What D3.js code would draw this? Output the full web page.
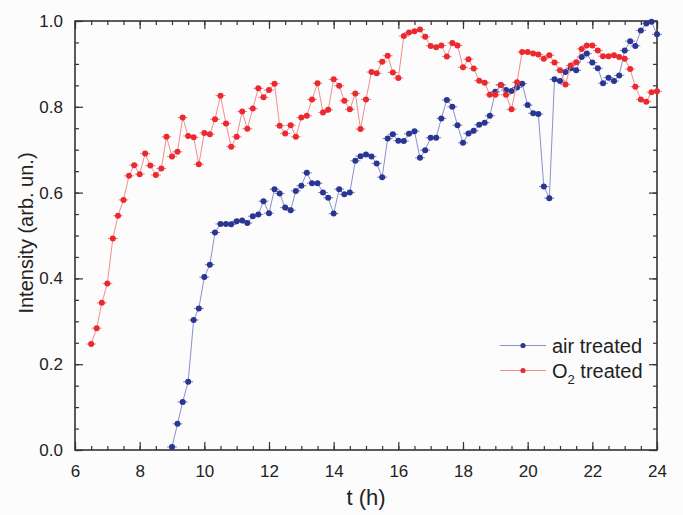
<!DOCTYPE html>
<html>
<head>
<meta charset="utf-8">
<script src="https://cdn.jsdelivr.net/npm/d3@7"></script>
<style>
  body { margin: 0; background: #fcfcfc; }
  svg { display: block; font-family: "Liberation Sans", Arial, sans-serif; }
</style>
</head>
<body>
<div id="chart"></div>
<script>
// sampling times (h) and intensities
var o2Times = [6.5, 6.67, 6.83, 7.0, 7.17, 7.33, 7.5, 7.67, 7.83, 8.0, 8.17, 8.33, 8.5, 8.67, 8.83,
    9.0, 9.17, 9.33, 9.5, 9.67, 9.83, 10.0, 10.17, 10.33, 10.5, 10.67, 10.83, 11.0, 11.17, 11.33,
    11.5, 11.67, 11.83, 12.0, 12.17, 12.33, 12.5, 12.67, 12.83, 13.0, 13.17, 13.33, 13.5, 13.67,
    13.83, 14.0, 14.17, 14.33, 14.5, 14.67, 14.83, 15.0, 15.17, 15.33, 15.5, 15.67, 15.83, 16.0,
    16.17, 16.33, 16.5, 16.67, 16.83, 17.0, 17.17, 17.33, 17.5, 17.67, 17.83, 18.0, 18.17, 18.33,
    18.5, 18.67, 18.83, 19.0, 19.17, 19.33, 19.5, 19.67, 19.83, 20.0, 20.17, 20.33, 20.5, 20.67,
    20.83, 21.0, 21.17, 21.33, 21.5, 21.67, 21.83, 22.0, 22.17, 22.33, 22.5, 22.67, 22.83, 23.0,
    23.17, 23.33, 23.5, 23.67, 23.83, 24.0];
var o2Values = [0.247, 0.284, 0.343, 0.388, 0.493, 0.546, 0.583, 0.639, 0.664, 0.643, 0.691, 0.663,
    0.641, 0.656, 0.730, 0.684, 0.695, 0.775, 0.732, 0.729, 0.666, 0.739, 0.736, 0.771, 0.826,
    0.761, 0.707, 0.730, 0.789, 0.749, 0.796, 0.843, 0.822, 0.839, 0.854, 0.756, 0.738, 0.757,
    0.730, 0.775, 0.779, 0.817, 0.855, 0.787, 0.793, 0.864, 0.849, 0.814, 0.794, 0.831, 0.748,
    0.817, 0.881, 0.878, 0.905, 0.919, 0.880, 0.867, 0.965, 0.973, 0.976, 0.980, 0.963, 0.942,
    0.939, 0.943, 0.917, 0.949, 0.943, 0.892, 0.911, 0.889, 0.861, 0.856, 0.828, 0.828, 0.851,
    0.828, 0.794, 0.857, 0.928, 0.928, 0.924, 0.922, 0.912, 0.920, 0.903, 0.885, 0.852, 0.896,
    0.904, 0.935, 0.943, 0.943, 0.931, 0.918, 0.918, 0.920, 0.916, 0.912, 0.888, 0.847, 0.817,
    0.812, 0.834, 0.836];

var airTimes = [9.0, 9.17, 9.33, 9.5, 9.67, 9.83, 10.0, 10.17, 10.33, 10.5, 10.67, 10.83, 11.0,
    11.17, 11.33, 11.5, 11.67, 11.83, 12.0, 12.17, 12.33, 12.5, 12.67, 12.83, 13.0, 13.17, 13.33,
    13.5, 13.67, 13.83, 14.0, 14.17, 14.33, 14.5, 14.67, 14.83, 15.0, 15.17, 15.33, 15.5, 15.67,
    15.83, 16.0, 16.17, 16.33, 16.5, 16.67, 16.83, 17.0, 17.17, 17.33, 17.5, 17.67, 17.83, 18.0,
    18.17, 18.33, 18.5, 18.67, 18.83, 19.0, 19.17, 19.33, 19.5, 19.67, 19.83, 20.0, 20.17, 20.33,
    20.5, 20.67, 20.83, 21.0, 21.17, 21.33, 21.5, 21.67, 21.83, 22.0, 22.17, 22.33, 22.5, 22.67,
    22.83, 23.0, 23.17, 23.33, 23.5, 23.67, 23.83, 24.0];
var airValues = [0.007, 0.061, 0.112, 0.159, 0.303, 0.330, 0.403, 0.432, 0.507, 0.527, 0.527,
    0.526, 0.533, 0.535, 0.529, 0.545, 0.549, 0.580, 0.552, 0.608, 0.598, 0.565, 0.559, 0.604,
    0.616, 0.646, 0.622, 0.622, 0.600, 0.588, 0.551, 0.608, 0.596, 0.600, 0.674, 0.685, 0.689,
    0.684, 0.668, 0.636, 0.726, 0.736, 0.721, 0.720, 0.737, 0.743, 0.681, 0.699, 0.728, 0.728,
    0.773, 0.816, 0.800, 0.757, 0.716, 0.738, 0.744, 0.758, 0.763, 0.779, 0.835, 0.851, 0.839,
    0.837, 0.845, 0.854, 0.804, 0.785, 0.783, 0.614, 0.587, 0.864, 0.860, 0.881, 0.890, 0.885,
    0.916, 0.924, 0.903, 0.890, 0.855, 0.868, 0.860, 0.873, 0.931, 0.953, 0.942, 0.978, 0.994,
    0.998, 0.969];

var xTicks = [6, 8, 10, 12, 14, 16, 18, 20, 22, 24]
  , yTicks = [0.0, 0.2, 0.4, 0.6, 0.8, 1.0];

var width = 683, height = 515
  , margin = {top: 21, right: 26, bottom: 65, left: 75}
  , w = width - margin.left - margin.right
  , h = height - margin.top - margin.bottom;

var series = [
    {name: 'air', times: airTimes, values: airValues, dot: '#2b3592', line: '#8a90d2'}
  , {name: 'o2', times: o2Times, values: o2Values, dot: '#ea2a2f', line: '#f18d8d'}
];

var svg = d3.select('#chart').append('svg')
    .attr('width', width).attr('height', height);

svg.append('rect').attr('width', width).attr('height', height).attr('fill', '#fcfcfc');

var g = svg.append('g')
    .attr('transform', 'translate(' + [margin.left, margin.top] + ')');

var x = d3.scaleLinear().domain([6, 24]).range([0, w])
  , y = d3.scaleLinear().domain([0, 1]).range([h, 0]);

var axisColor = '#333';

// ticks: major + minor, all pointing inward, mirrored on top/right
function styleAxis(sel){
    sel.select('.domain').remove();
    sel.selectAll('line').attr('stroke', axisColor).attr('stroke-width', 1.2);
    sel.selectAll('text').attr('fill', '#222').style('font-size', '17px');
}

var xMinor = d3.range(6, 24.01, 0.5)
  , yMinor = d3.range(0, 1.001, 0.05);

g.append('g').attr('transform', 'translate(0,' + h + ')')
    .call(d3.axisBottom(x).tickValues(xMinor).tickSize(-4).tickFormat(''))
    .call(styleAxis);
g.append('g').attr('transform', 'translate(0,' + h + ')')
    .call(d3.axisBottom(x).tickValues(xTicks).tickSize(-8).tickPadding(15).tickFormat(d3.format('d')))
    .call(styleAxis);
g.append('g')
    .call(d3.axisTop(x).tickValues(xMinor).tickSize(-4).tickFormat(''))
    .call(styleAxis);
g.append('g')
    .call(d3.axisTop(x).tickValues(xTicks).tickSize(-8).tickFormat(''))
    .call(styleAxis);

g.append('g')
    .call(d3.axisLeft(y).tickValues(yMinor).tickSize(-4).tickFormat(''))
    .call(styleAxis);
g.append('g')
    .call(d3.axisLeft(y).tickValues(yTicks).tickSize(-8).tickPadding(12).tickFormat(d3.format('.1f')))
    .call(styleAxis);
g.append('g').attr('transform', 'translate(' + w + ',0)')
    .call(d3.axisRight(y).tickValues(yMinor).tickSize(-4).tickFormat(''))
    .call(styleAxis);
g.append('g').attr('transform', 'translate(' + w + ',0)')
    .call(d3.axisRight(y).tickValues(yTicks).tickSize(-8).tickFormat(''))
    .call(styleAxis);

g.append('rect')
    .attr('width', w).attr('height', h)
    .attr('fill', 'none').attr('stroke', axisColor).attr('stroke-width', 1.6);

// series
var line = d3.line()
    .x(function(d){ return x(d[0]); })
    .y(function(d){ return y(d[1]); });

series.forEach(function(s){
    var pts = s.times.map(function(t, i){ return [t, s.values[i]]; });

    g.append('path').datum(pts)
        .attr('d', line)
        .attr('fill', 'none')
        .attr('stroke', s.line)
        .attr('stroke-width', 1);

    var m = g.append('g').selectAll('g').data(pts).enter().append('g')
        .attr('transform', function(d){ return 'translate(' + [x(d[0]), y(d[1])] + ')'; });

    m.append('line').attr('x1', -5).attr('x2', 5)
        .attr('stroke', s.dot).attr('stroke-width', 1).attr('opacity', 0.6);
    m.append('circle').attr('r', 3).attr('fill', s.dot);
});

// legend
var legend = svg.append('g').attr('transform', 'translate(' + [500, 345.5] + ')');
series.forEach(function(s, i){
    var row = legend.append('g').attr('transform', 'translate(0,' + (i * 25) + ')');
    row.append('line').attr('x1', 0).attr('x2', 46)
        .attr('stroke', s.line).attr('stroke-width', 1);
    row.append('circle').attr('cx', 23).attr('r', 2.6).attr('fill', s.dot);
});
legend.append('text').attr('x', 52).attr('y', 7).attr('fill', '#222')
    .style('font-size', '20px').text('air treated');
var lt2 = legend.append('text').attr('x', 52).attr('y', 32).attr('fill', '#222')
    .style('font-size', '20px');
lt2.append('tspan').text('O');
lt2.append('tspan').attr('dy', 6).style('font-size', '13px').text('2');
lt2.append('tspan').attr('dy', -6).text(' treated');

// axis titles
svg.append('text')
    .attr('x', margin.left + w / 2).attr('y', 505)
    .attr('text-anchor', 'middle').attr('fill', '#222')
    .style('font-size', '22px').text('t (h)');

svg.append('text')
    .attr('transform', 'translate(' + [33, 233] + ') rotate(-90)')
    .attr('text-anchor', 'middle').attr('fill', '#222')
    .style('font-size', '20px').text('Intensity (arb. un.)');
</script>
</body>
</html>
